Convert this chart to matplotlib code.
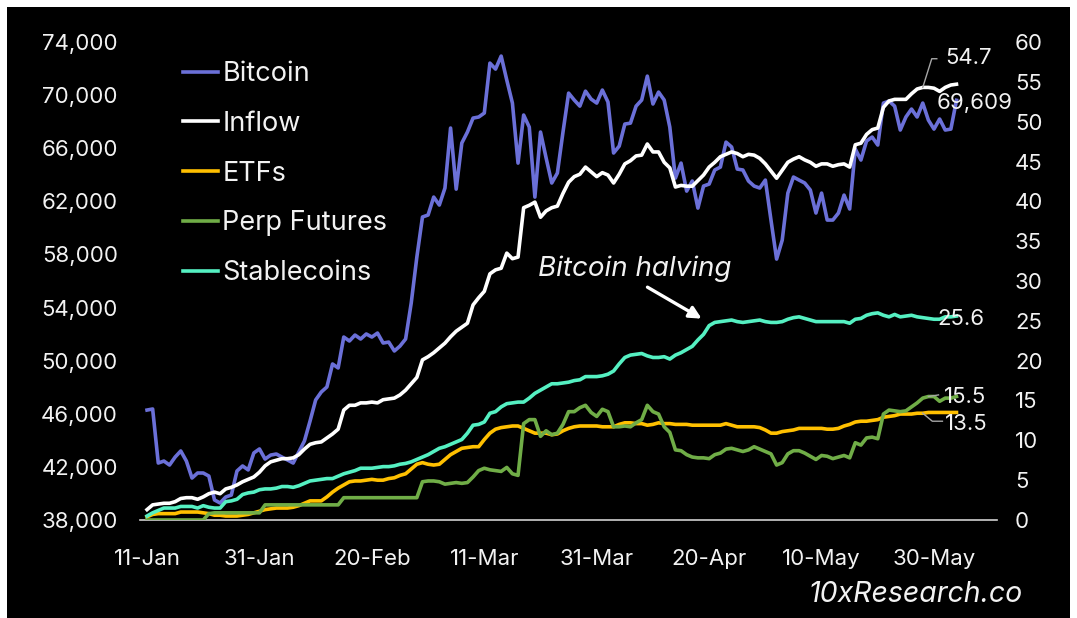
import matplotlib
matplotlib.use('Agg')
import matplotlib.pyplot as plt
import matplotlib.dates as mdates
from matplotlib.patches import Rectangle
from matplotlib.ticker import FuncFormatter
import pandas as pd

plt.rcParams['font.family'] = ['Inter', 'DejaVu Sans']

# daily series, 11-Jan-2024 .. 3-Jun-2024
dates = pd.date_range('2024-01-11', periods=145, freq='D')

# BTC price, USD (left axis)
btc = [46280, 46360, 42290, 42440, 42140, 42740, 43200, 42440, 41160, 41540,
       41540, 41310, 39510, 39280, 39730, 39880, 41690, 42070, 41770, 43050,
       43350, 42590, 42890, 42970, 42740, 42520, 42290, 43120, 43950, 45450,
       47040, 47640, 48020, 49750, 49450, 51780, 51480, 51930, 51630, 52010,
       51780, 52080, 51330, 51400, 50730, 51100, 51630, 54340, 57800, 60820,
       60970, 62320, 61720, 63000, 67520, 62920, 66390, 67220, 68270, 68350,
       68650, 72410, 71960, 72940, 71130, 69400, 64880, 68500, 67590, 62320,
       67220, 65260, 63380, 64130, 67220, 70150, 69630, 69170, 70300, 69700,
       69400, 70380, 69480, 65640, 66160, 67820, 67890, 69170, 69630, 71430,
       69330, 70230, 69630, 67590, 63750, 64880, 62770, 63530, 61490, 63150,
       63300, 64360, 64580, 66460, 66090, 64430, 64360, 63530, 63150, 63000,
       63600, 60590, 57650, 59080, 62620, 63830, 63600, 63380, 62850, 61120,
       62620, 60590, 60590, 61120, 62470, 61420, 65940, 65110, 66540, 66840,
       66240, 69400, 69550, 69170, 67370, 68350, 68950, 68350, 69400, 68120,
       67440, 68200, 67370, 67440, 69609]

# cumulative inflows, USD bn (right axis)
inflow = [1.3, 1.9, 2.0, 2.1, 2.1, 2.3, 2.7, 2.8, 2.8, 2.6,
          2.9, 3.3, 3.5, 3.3, 3.9, 4.1, 4.4, 4.8, 5.1, 5.4,
          6.0, 6.8, 7.3, 7.5, 7.7, 7.7, 7.8, 8.2, 8.9, 9.5,
          9.7, 9.8, 10.3, 10.8, 11.4, 13.8, 14.4, 14.4, 14.7, 14.7,
          14.8, 14.7, 15.1, 15.2, 15.3, 15.7, 16.3, 17.1, 17.9, 20.1,
          20.5, 21.0, 21.6, 22.2, 23.0, 23.7, 24.2, 24.7, 27.0, 27.9,
          28.7, 30.9, 31.4, 31.6, 33.5, 32.8, 33.0, 39.2, 39.5, 39.9,
          38.0, 38.8, 39.2, 39.4, 41.0, 42.4, 43.1, 43.4, 44.3, 43.7,
          43.1, 43.6, 43.3, 42.3, 43.4, 44.7, 45.1, 45.7, 45.8, 47.2,
          46.2, 46.2, 44.9, 44.2, 41.8, 42.0, 41.9, 41.9, 42.6, 43.3,
          44.3, 44.9, 45.6, 45.9, 46.2, 46.0, 45.6, 45.9, 45.8, 45.4,
          44.7, 43.8, 42.9, 43.9, 44.9, 45.3, 45.6, 45.2, 44.9, 44.4,
          44.7, 44.7, 44.4, 44.6, 44.7, 44.3, 47.1, 47.3, 48.4, 49.0,
          49.2, 51.8, 52.6, 52.8, 52.8, 52.8, 53.5, 54.1, 54.3, 54.3,
          54.2, 53.8, 54.3, 54.6, 54.7]

etfs = [0.4, 0.7, 0.8, 0.8, 0.8, 0.8, 1.0, 1.0, 1.0, 1.0,
        0.9, 0.8, 0.6, 0.6, 0.5, 0.5, 0.5, 0.6, 0.7, 0.9,
        1.1, 1.3, 1.4, 1.5, 1.5, 1.5, 1.6, 1.8, 2.1, 2.4,
        2.4, 2.4, 2.9, 3.5, 4.0, 4.4, 4.8, 4.9, 4.9, 5.0,
        5.1, 5.0, 5.0, 5.2, 5.3, 5.6, 5.8, 6.4, 7.0, 7.2,
        7.0, 6.9, 7.0, 7.6, 8.2, 8.6, 9.0, 9.1, 9.2, 9.2,
        10.1, 10.9, 11.4, 11.6, 11.7, 11.8, 11.8, 11.5, 11.2, 10.9,
        10.9, 10.9, 10.7, 10.8, 11.2, 11.5, 11.7, 11.8, 11.8, 11.8,
        11.8, 11.7, 11.7, 11.7, 12.0, 12.2, 12.2, 12.1, 12.1, 11.9,
        12.0, 12.2, 12.1, 12.1, 12.0, 12.0, 12.0, 11.9, 11.9, 11.9,
        11.9, 11.9, 11.9, 12.1, 11.9, 11.7, 11.7, 11.7, 11.7, 11.6,
        11.3, 10.9, 10.9, 11.1, 11.2, 11.3, 11.5, 11.5, 11.5, 11.5,
        11.5, 11.4, 11.4, 11.5, 11.8, 12.0, 12.3, 12.4, 12.4, 12.5,
        12.6, 12.9, 13.0, 13.1, 13.3, 13.3, 13.3, 13.4, 13.4, 13.5,
        13.5, 13.5, 13.5, 13.5, 13.5]

perp = [0.0, 0.0, 0.0, 0.0, 0.0, 0.0, 0.0, 0.0, 0.0, 0.0,
        0.0, 0.8, 0.9, 0.9, 0.9, 0.9, 0.9, 0.9, 0.9, 0.9,
        0.9, 1.9, 1.9, 1.9, 1.9, 1.9, 1.9, 1.9, 1.9, 1.9,
        1.9, 1.9, 1.9, 1.9, 1.9, 2.8, 2.8, 2.8, 2.8, 2.8,
        2.8, 2.8, 2.8, 2.8, 2.8, 2.8, 2.8, 2.8, 2.8, 4.8,
        4.9, 4.9, 4.8, 4.5, 4.6, 4.7, 4.6, 4.7, 5.4, 6.2,
        6.5, 6.3, 6.2, 6.1, 6.6, 5.8, 5.6, 12.1, 12.6, 12.6,
        10.5, 11.2, 10.7, 10.9, 12.0, 13.6, 13.6, 14.1, 14.4, 13.5,
        13.0, 13.9, 13.6, 11.7, 11.7, 11.8, 11.7, 12.2, 12.6, 14.4,
        13.6, 13.3, 11.7, 11.0, 8.8, 8.7, 8.2, 7.9, 7.8, 7.8,
        7.7, 8.2, 8.4, 8.9, 9.0, 8.8, 8.6, 8.8, 9.2, 8.9,
        8.6, 8.3, 6.9, 7.2, 8.3, 8.7, 8.7, 8.4, 8.0, 7.6,
        8.1, 8.0, 7.7, 7.9, 8.1, 7.8, 9.7, 9.4, 10.3, 10.4,
        10.2, 13.3, 13.8, 13.7, 13.6, 13.7, 14.2, 14.7, 15.3, 15.5,
        15.5, 14.9, 15.3, 15.3, 15.5]

stable = [0.5, 0.9, 1.2, 1.5, 1.5, 1.5, 1.7, 1.7, 1.7, 1.5,
          1.8, 1.6, 1.5, 1.5, 2.3, 2.4, 2.6, 3.2, 3.4, 3.5,
          3.8, 3.9, 3.9, 4.0, 4.2, 4.2, 4.1, 4.3, 4.6, 4.9,
          5.0, 5.1, 5.2, 5.2, 5.5, 5.8, 6.0, 6.2, 6.5, 6.5,
          6.5, 6.6, 6.7, 6.7, 6.8, 7.0, 7.1, 7.3, 7.6, 7.9,
          8.2, 8.6, 9.0, 9.2, 9.5, 9.8, 10.1, 10.9, 11.9, 12.0,
          12.3, 13.4, 13.6, 14.2, 14.6, 14.7, 14.8, 14.8, 15.3, 15.9,
          16.3, 16.7, 17.1, 17.1, 17.2, 17.3, 17.5, 17.6, 18.0, 18.0,
          18.0, 18.1, 18.3, 18.7, 19.6, 20.4, 20.7, 20.8, 20.9, 20.6,
          20.4, 20.4, 20.5, 20.2, 20.7, 21.0, 21.4, 21.8, 22.6, 23.3,
          24.4, 24.8, 24.9, 25.0, 25.1, 24.9, 24.8, 24.9, 25.0, 25.1,
          24.9, 24.8, 24.8, 24.9, 25.2, 25.4, 25.5, 25.3, 25.1, 24.9,
          24.9, 24.9, 24.9, 24.9, 24.9, 24.7, 25.2, 25.3, 25.7, 25.9,
          26.0, 25.7, 25.5, 25.8, 25.5, 25.6, 25.7, 25.5, 25.4, 25.3,
          25.2, 25.2, 25.5, 25.5, 25.6]

halving = pd.Timestamp('2024-04-20')

C_BTC = '#6b70d8'
C_INFLOW = '#ffffff'
C_ETF = '#ffc000'
C_PERP = '#70ad47'
C_STABLE = '#55f0c2'
TXT = '#f2f2f2'
LEADER = '#a6a6a6'
LW = 2.6
FS = 16

fig = plt.figure(figsize=(10.77, 6.18), dpi=100, facecolor='white')
fig.patches.append(Rectangle((7 / 1077, 0), 1063 / 1077, 611 / 618,
                             transform=fig.transFigure, facecolor='black',
                             edgecolor='none', zorder=-10))

ax = fig.add_axes([140 / 1077, 98 / 618, 857 / 1077, 478 / 618])
ax.set_facecolor('none')
ax2 = ax.twinx()
ax2.set_facecolor('none')

l_btc, = ax.plot(dates, btc, color=C_BTC, lw=LW, label='Bitcoin')
l_in, = ax2.plot(dates, inflow, color=C_INFLOW, lw=LW, label='Inflow')
l_etf, = ax2.plot(dates, etfs, color=C_ETF, lw=LW, label='ETFs')
l_perp, = ax2.plot(dates, perp, color=C_PERP, lw=LW, label='Perp Futures')
l_st, = ax2.plot(dates, stable, color=C_STABLE, lw=LW, label='Stablecoins')

ax.set_ylim(38000, 74000)
ax.set_yticks(range(38000, 74001, 4000))
ax.yaxis.set_major_formatter(FuncFormatter(lambda v, p: f'{v:,.0f}'))
ax2.set_ylim(0, 60)
ax2.set_yticks(range(0, 61, 5))

ax.set_xlim(dates[0] - pd.Timedelta(hours=30), dates[0] + pd.Timedelta(hours=3629))
ax.set_xticks(pd.date_range(dates[0], periods=8, freq='20D'))
ax.xaxis.set_major_formatter(mdates.DateFormatter('%d-%b'))

for a in (ax, ax2):
    for s in a.spines.values():
        s.set_visible(False)
ax.spines['bottom'].set_visible(True)
ax.spines['bottom'].set_color('#d0d0d0')
ax.spines['bottom'].set_linewidth(1.2)

ax.tick_params(axis='y', length=0, colors=TXT, labelsize=FS, pad=16)
ax.tick_params(axis='x', length=0, colors=TXT, labelsize=FS, pad=21)
ax2.tick_params(axis='y', length=0, colors=TXT, labelsize=FS, pad=13)

fig.legend([l_btc, l_in, l_etf, l_perp, l_st],
           ['Bitcoin', 'Inflow', 'ETFs', 'Perp Futures', 'Stablecoins'],
           loc='upper left', bbox_to_anchor=(183 / 1077, 1 - 61 / 618),
           frameon=False, fontsize=19.5, labelcolor=TXT, handlelength=1.3,
           handletextpad=0.15, labelspacing=0.88, borderpad=0, borderaxespad=0)

# end-of-series labels
day = pd.Timedelta(days=1)
ax.annotate(f'{btc[-1]:,.0f}', xy=(dates[-1], btc[-1]), xytext=(-14.2, -2.2),
            textcoords='offset points', color=TXT, fontsize=FS, va='center', ha='left')
ax2.annotate(f'{inflow[-1]:.1f}', xy=(dates[-1], inflow[-1]), xytext=(-8.4, 18.7),
             textcoords='offset points', color=TXT, fontsize=FS, va='center', ha='left')
ax2.annotate(f'{stable[-1]:.1f}', xy=(dates[-1], stable[-1]), xytext=(-14, -2.2),
             textcoords='offset points', color=TXT, fontsize=FS, va='center', ha='left')
ax2.annotate(f'{perp[-1]:.1f}', xy=(dates[-1], perp[-1]), xytext=(-9.1, -0.4),
             textcoords='offset points', color=TXT, fontsize=FS, va='center', ha='left')
ax2.annotate(f'{etfs[-1]:.1f}', xy=(dates[-1], etfs[-1]), xytext=(-8.4, -8.4),
             textcoords='offset points', color=TXT, fontsize=FS, va='center', ha='left')

# leader lines
ax2.plot([dates[138], dates[138] + 1.6 * day, dates[138] + 2.5 * day],
         [inflow[138], inflow[138] + 3.6, inflow[138] + 3.6], color=LEADER, lw=1)
ax2.plot([dates[139], dates[139] + 1.8 * day],
         [perp[139], perp[139] + 0.2], color=LEADER, lw=1)
ax2.plot([dates[138], dates[138] + 1.7 * day, dates[138] + 3.5 * day],
         [etfs[138], etfs[138] - 1.0, etfs[138] - 1.0], color=LEADER, lw=1)

# halving call-out
ax2.text(halving - 13.3 * day, 31.6, 'Bitcoin halving', color=TXT, fontsize=20,
         style='italic', ha='center', va='center')
ax2.annotate('', xy=(halving - 0.9 * day, 25.1), xytext=(halving - 11.4 * day, 29.4),
             arrowprops=dict(arrowstyle='-|>', color='white', lw=2.4, mutation_scale=18))

fig.text(1023 / 1077, 1 - 594 / 618, '10xResearch.co', color=TXT, fontsize=20.5,
         style='italic', ha='right', va='center')

fig.savefig('out.png', dpi=100, facecolor=fig.get_facecolor())
